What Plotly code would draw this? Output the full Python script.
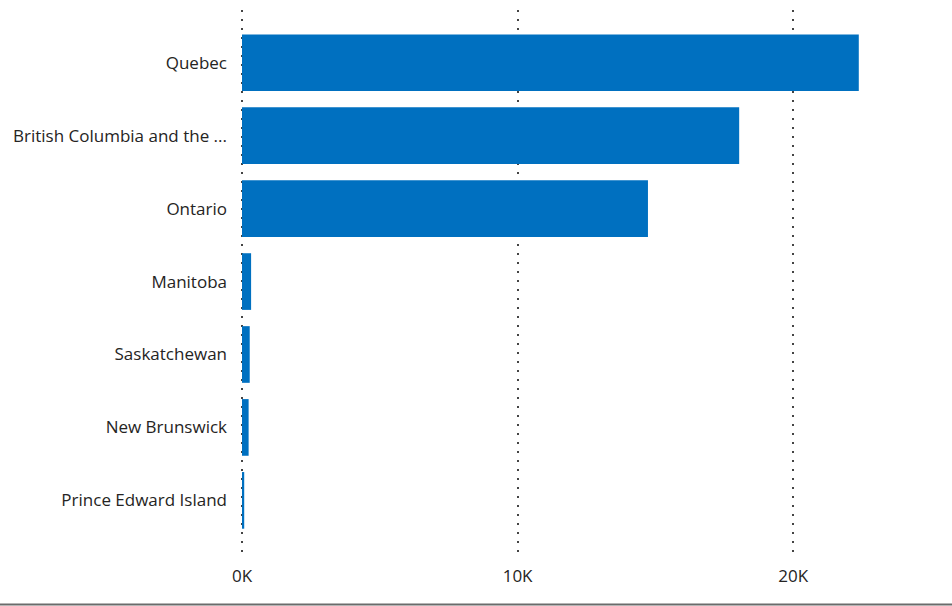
import plotly.graph_objects as go

# Provinces and their totals
provinces = [
    "Quebec",
    "British Columbia and the ...",
    "Ontario",
    "Manitoba",
    "Saskatchewan",
    "New Brunswick",
    "Prince Edward Island",
]
values = [22380, 18040, 14730, 330, 280, 240, 80]

tick_vals = [0, 10000, 20000]
tick_text = ["0K", "10K", "20K"]

W, H = 952, 606
px_per_unit = 0.02755          # horizontal scale of the value axis
x_min, x_max = -3 / px_per_unit, 25000   # small pad so the 0K gridline shows
left, top, bottom = 239, 10, 48
plot_w = (x_max - x_min) * px_per_unit
right = W - left - plot_w
plot_h = H - top - bottom

fig = go.Figure(
    go.Bar(
        x=values,
        y=provinces,
        orientation="h",
        marker=dict(color="#0070C0", line=dict(width=0)),
        hoverinfo="x+y",
    )
)

fig.update_layout(
    width=W,
    height=H,
    margin=dict(l=left, r=right, t=top, b=bottom, pad=0),
    paper_bgcolor="white",
    plot_bgcolor="white",
    bargap=0.223,
    showlegend=False,
    font=dict(family="Open Sans, Noto Sans, sans-serif", size=17, color="#252423"),
    xaxis=dict(
        range=[x_min, x_max],
        tickvals=tick_vals,
        ticktext=tick_text,
        showgrid=True,
        gridcolor="#444444",
        gridwidth=1.5,
        griddash="1.5px,7.5px",
        zeroline=False,
        showline=False,
        ticks="",
        ticklabelstandoff=6,
        tickfont=dict(size=17, color="#252423"),
        fixedrange=True,
    ),
    yaxis=dict(
        categoryorder="array",
        categoryarray=provinces,
        range=[6.79, -0.723],
        showgrid=False,
        zeroline=False,
        showline=False,
        ticks="",
        ticklabelstandoff=11,
        tickfont=dict(size=17, color="#252423"),
        fixedrange=True,
    ),
    shapes=[
        dict(
            type="line",
            xref="paper",
            yref="paper",
            x0=-left / plot_w,
            x1=(W - left) / plot_w,
            y0=-(bottom - 1.5) / plot_h,
            y1=-(bottom - 1.5) / plot_h,
            line=dict(color="#6b6b6b", width=2),
        )
    ],
)

fig.write_html("out.html")
